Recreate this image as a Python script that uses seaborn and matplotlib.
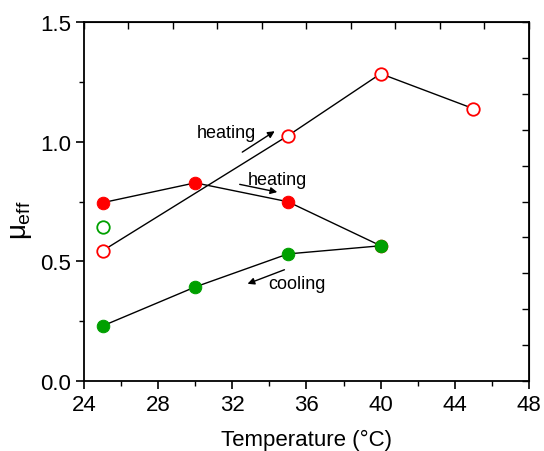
import numpy as np
import pandas as pd
import matplotlib.pyplot as plt
import seaborn as sns
from matplotlib.ticker import MultipleLocator

# -----------------------------
# data
# -----------------------------
heat_filled_t = [25, 30, 35, 40]
heat_filled_mu = [0.745, 0.828, 0.749, 0.565]

cool_t = [25, 30, 35, 40]
cool_mu = [0.23, 0.393, 0.531, 0.565]

heat_open_t = [25, 35, 40, 45]
heat_open_mu = [0.544, 1.025, 1.284, 1.138]

green_open_t = [25]
green_open_mu = [0.644]

RED = '#ff0000'
GREEN = '#00a000'

sns.set_style('ticks')
plt.rcParams['font.family'] = ['Liberation Sans', 'DejaVu Sans']
plt.rcParams['mathtext.fontset'] = 'custom'
plt.rcParams['mathtext.rm'] = 'Liberation Sans'
plt.rcParams['mathtext.it'] = 'Liberation Sans'
plt.rcParams['text.color'] = 'black'
plt.rcParams['axes.labelcolor'] = 'black'
plt.rcParams['xtick.color'] = 'black'
plt.rcParams['ytick.color'] = 'black'
plt.rcParams['axes.edgecolor'] = 'black'

fig = plt.figure(figsize=(5.44, 4.52), dpi=100)
ax = fig.add_axes([84 / 544, 1 - 382 / 452, 445 / 544, 359 / 452])

df_hf = pd.DataFrame({'t': heat_filled_t, 'mu': heat_filled_mu})
df_c = pd.DataFrame({'t': cool_t, 'mu': cool_mu})
df_ho = pd.DataFrame({'t': heat_open_t, 'mu': heat_open_mu})
df_go = pd.DataFrame({'t': green_open_t, 'mu': green_open_mu})

line_kw = dict(color='black', linewidth=1.0, marker='o', markersize=9, sort=False)
sns.lineplot(data=df_hf, x='t', y='mu', ax=ax, markerfacecolor=RED,
             markeredgecolor=RED, **line_kw)
sns.lineplot(data=df_ho, x='t', y='mu', ax=ax, markerfacecolor='white',
             markeredgecolor=RED, markeredgewidth=1.3, **line_kw)
sns.lineplot(data=df_c, x='t', y='mu', ax=ax, markerfacecolor=GREEN,
             markeredgecolor=GREEN, **line_kw)
sns.lineplot(data=df_go, x='t', y='mu', ax=ax, color=GREEN, linewidth=0,
             marker='o', markersize=9, markerfacecolor='white',
             markeredgecolor=GREEN, markeredgewidth=1.3)

# arrows and labels
arrow = dict(arrowstyle='-|>', color='black', lw=1.0, mutation_scale=10)
ax.annotate('', xy=(34.41, 1.05), xytext=(32.41, 0.95), arrowprops=arrow)
ax.text(31.66, 1.04, 'heating', fontsize=13, ha='center', va='center')
ax.annotate('', xy=(34.57, 0.787), xytext=(32.25, 0.824), arrowprops=arrow)
ax.text(34.41, 0.841, 'heating', fontsize=13, ha='center', va='center')
ax.annotate('', xy=(32.68, 0.402), xytext=(34.95, 0.469), arrowprops=arrow)
ax.text(35.5, 0.406, 'cooling', fontsize=13, ha='center', va='center')

# axes
ax.set_xlim(24, 48)
ax.set_ylim(0, 1.5)
ax.xaxis.set_major_locator(MultipleLocator(4))
ax.xaxis.set_minor_locator(MultipleLocator(2))
ax.yaxis.set_major_locator(MultipleLocator(0.5))
ax.yaxis.set_minor_locator(MultipleLocator(0.25))
ax.yaxis.set_major_formatter(plt.FormatStrFormatter('%.1f'))
ax.tick_params(which='major', direction='out', length=6, width=1.2, labelsize=16)
ax.tick_params(which='minor', direction='out', length=3.5, width=1.0)
ax.set_xlabel('Temperature (\u00b0C)', fontsize=16, labelpad=10)
ax.set_ylabel(r'$\mu_{\mathrm{eff}}$', fontsize=20)
ax.yaxis.set_label_coords(-0.112, 0.45)
for s in ax.spines.values():
    s.set_visible(True)
    s.set_linewidth(1.3)

top = ax.secondary_xaxis('top')
top.set_xticks(np.arange(24, 48.01, 2.4))
top.tick_params(direction='in', length=5, width=1.0, labeltop=False)
right = ax.secondary_yaxis('right')
right.set_yticks(np.arange(0, 1.501, 0.15))
right.tick_params(direction='in', length=5, width=1.0, labelright=False)

fig.savefig('out.png', dpi=100)
